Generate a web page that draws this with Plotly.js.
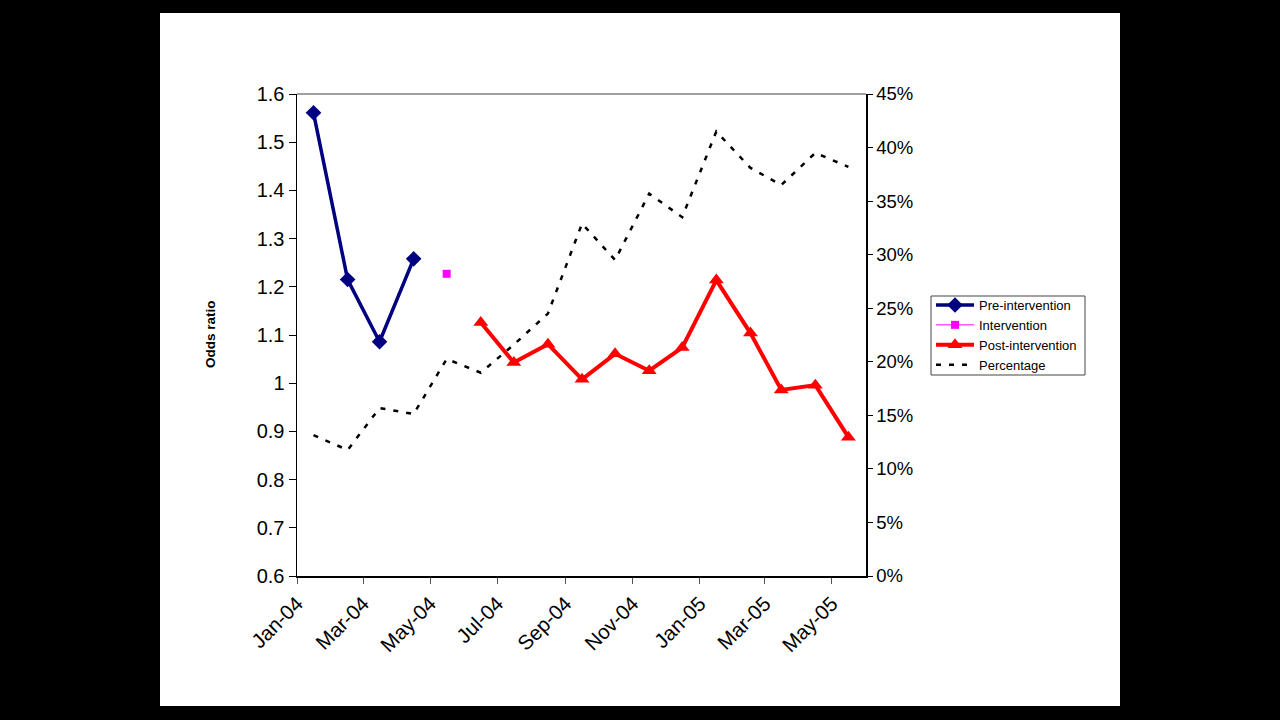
<!DOCTYPE html>
<html>
<head>
<meta charset="utf-8">
<script src="https://cdn.plot.ly/plotly-3.0.1.min.js"></script>
<style>
  html, body { margin: 0; padding: 0; background: #000; }
  #chart { width: 1280px; height: 720px; }
</style>
</head>
<body>
<div id="chart"></div>
<script>
// Monthly observations, Jan 2004 to May 2005
const months = ['2004-01','2004-02','2004-03','2004-04','2004-05','2004-06',
                '2004-07','2004-08','2004-09','2004-10','2004-11','2004-12',
                '2005-01','2005-02','2005-03','2005-04','2005-05'];

// Odds ratio before the intervention
const preIntervention = [1.561, 1.215, 1.086, 1.258, null, null, null, null, null,
                         null, null, null, null, null, null, null, null];
// Odds ratio in the intervention month
const intervention = [null, null, null, null, 1.227, null, null, null, null,
                      null, null, null, null, null, null, null, null];
// Odds ratio after the intervention
const postIntervention = [null, null, null, null, null, 1.126, 1.043, 1.081, 1.008,
                          1.061, 1.026, 1.074, 1.214, 1.104, 0.986, 0.996, 0.888];
// Percentage (right axis)
const percentage = [0.1316, 0.1176, 0.1568, 0.1512, 0.2026, 0.1898, 0.216, 0.245, 0.329,
                    0.295, 0.357, 0.335, 0.415, 0.381, 0.365, 0.395, 0.382];

// points sit mid-month on a date axis
const x = months.map(m => m + '-16');

const font = 'Liberation Sans, Arial, sans-serif';

const traces = [
  {
    name: 'Pre-intervention', x: x, y: preIntervention, type: 'scatter',
    mode: 'lines+markers', connectgaps: false,
    line: { color: '#000080', width: 3.5 },
    marker: { symbol: 'diamond', size: 12, color: '#000080' }
  },
  {
    name: 'Intervention', x: x, y: intervention, type: 'scatter',
    mode: 'lines+markers',
    line: { color: '#FF00FF', width: 1 },
    marker: { symbol: 'square', size: 8, color: '#FF00FF' }
  },
  {
    name: 'Post-intervention', x: x, y: postIntervention, type: 'scatter',
    mode: 'lines+markers', connectgaps: false,
    line: { color: '#FF0000', width: 4 },
    marker: { symbol: 'triangle-up', size: 13, color: '#FF0000' }
  },
  {
    name: 'Percentage', x: x, y: percentage, type: 'scatter', yaxis: 'y2',
    mode: 'lines',
    line: { color: '#000000', width: 2.5, dash: '5px,8px' }
  }
];

const L = 297, R = 866, T = 94, B = 576;
const W = R - L, H = B - T;
const px = v => (v - L) / W;
const py = v => (B - v) / H;

const layout = {
  width: 1280, height: 720,
  margin: { l: L, r: 1280 - R, t: T, b: 720 - B },
  paper_bgcolor: '#000000',
  plot_bgcolor: '#FFFFFF',
  font: { family: font, color: '#000000', size: 17 },
  showlegend: true,
  legend: {
    x: px(931), y: py(290), xanchor: 'left', yanchor: 'top',
    bgcolor: 'rgba(0,0,0,0)', borderwidth: 0,
    itemwidth: 38,
    font: { family: font, size: 13, color: '#000000' },
    tracegroupgap: 0
  },
  xaxis: {
    type: 'date',
    range: ['2004-01-01', '2005-06-01'],
    tickmode: 'linear', tick0: '2004-01-01', dtick: 'M2',
    tickformat: '%b-%y', tickangle: -45,
    ticks: 'outside', ticklen: 6, tickcolor: '#555555',
    showline: true, linecolor: '#000000', linewidth: 1.5,
    showgrid: false, zeroline: false,
    tickfont: { family: font, size: 20.5, color: '#000000' }
  },
  yaxis: {
    range: [0.6, 1.6], dtick: 0.1, tick0: 0.6,
    ticks: 'outside', ticklen: 7, tickcolor: '#000000',
    showline: true, linecolor: '#000000', linewidth: 1.5,
    showgrid: false, zeroline: false,
    tickfont: { family: font, size: 20, color: '#000000' }
  },
  yaxis2: {
    overlaying: 'y', side: 'right',
    range: [0, 0.45], dtick: 0.05, tick0: 0,
    tickformat: '.0%',
    ticks: 'outside', ticklen: 5, tickcolor: '#000000',
    showline: true, linecolor: '#000000', linewidth: 1.5,
    showgrid: false, zeroline: false,
    tickfont: { family: font, size: 18.5, color: '#000000' }
  },
  shapes: [
    // white slide panel behind the chart
    { type: 'rect', xref: 'paper', yref: 'paper', layer: 'below',
      x0: px(160), x1: px(1120), y0: py(706), y1: py(13),
      fillcolor: '#FFFFFF', line: { width: 0 } },
    // legend frame
    { type: 'rect', xref: 'paper', yref: 'paper', layer: 'below',
      x0: px(931), x1: px(1085), y0: py(375), y1: py(296),
      fillcolor: '#FFFFFF', line: { color: '#444444', width: 1 } },
    // top border of the plot area
    { type: 'line', xref: 'paper', yref: 'paper',
      x0: 0, x1: 1, y0: 1, y1: 1,
      line: { color: '#A0A0A0', width: 2 } }
  ],
  annotations: [
    { text: '<b>Odds ratio</b>', xref: 'paper', yref: 'paper',
      x: px(210), y: py(334), xanchor: 'center', yanchor: 'middle',
      textangle: -90, showarrow: false,
      font: { family: font, size: 13.5, color: '#000000' } }
  ]
};

Plotly.newPlot('chart', traces, layout, { displayModeBar: false, staticPlot: true });
</script>
</body>
</html>
